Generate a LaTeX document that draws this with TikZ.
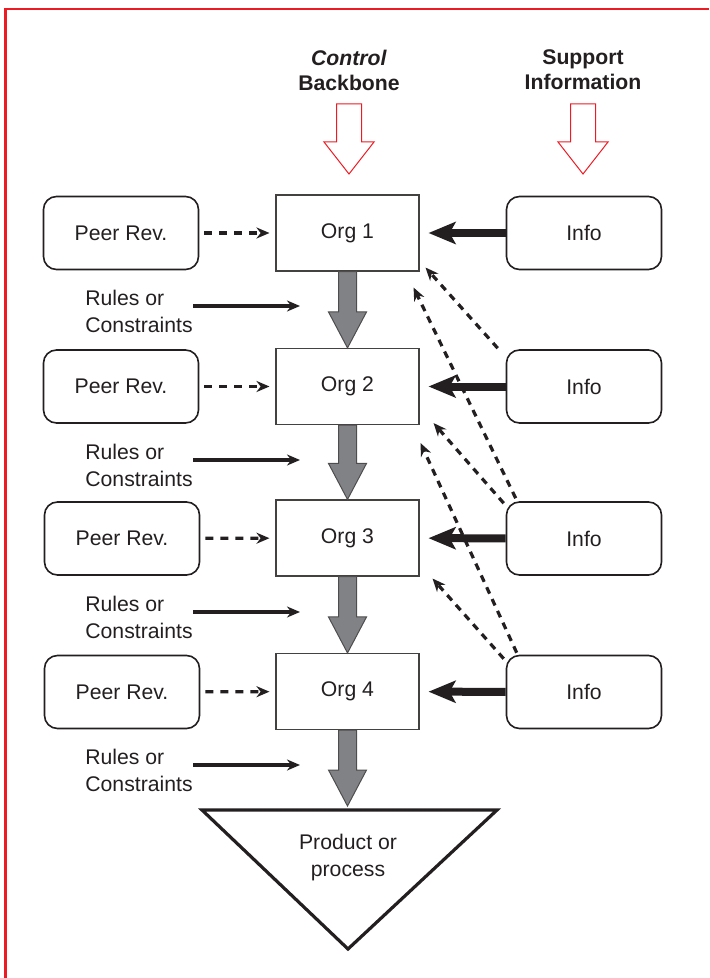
\documentclass[tikz,border=0pt]{standalone}
\usepackage{fontspec}
\setmainfont{Liberation Sans}
\usetikzlibrary{arrows.meta,calc}
\definecolor{framered}{HTML}{ED1C24}
\definecolor{bbgray}{HTML}{808285}
\definecolor{txt}{HTML}{231F20}
% grey backbone arrow: #1 start point, #2 tip
\newcommand{\backbone}[2]{%
  \draw[bbone] ($#1+(-9,0)$) -- ($#1+(9,0)$) -- ($#2+(9,-36)$) -- ($#2+(19,-36)$)
    -- #2 -- ($#2+(-19,-36)$) -- ($#2+(-9,-36)$) -- cycle;}
% open red arrow: #1 tip
\newcommand{\openarrow}[1]{%
  \draw[openred] ($#1+(-12.5,-70)$) -- ($#1+(12.5,-70)$) -- ($#1+(12.5,-32)$) -- ($#1+(25,-32)$)
    -- #1 -- ($#1+(-25,-32)$) -- ($#1+(-12.5,-32)$) -- cycle;}
\begin{document}
\begin{tikzpicture}[x=0.5pt,y=-0.5pt,
    every node/.style={font=\fontsize{10.6}{13.5}\selectfont, text=txt},
    title/.style={font=\fontsize{10.6}{12.5}\selectfont\bfseries, align=center},
    org/.style={draw=txt!85, line width=0.55pt, minimum width=71.5pt, minimum height=38pt},
    side/.style={draw=txt, line width=0.8pt, rounded corners=6.5pt, minimum width=77.5pt, minimum height=36.5pt},
    rules/.style={align=left, anchor=west, inner sep=0pt},
    bbone/.style={draw=txt!80, line width=0.5pt, fill=bbgray},
    openred/.style={draw=framered, line width=0.5pt, fill=white},
    peerarrow/.style={draw=txt, dash pattern=on 4pt off 3.5pt, line width=1.6pt,
      -{Stealth[length=6.5pt,width=5.5pt]}, shorten <=2.5pt, shorten >=3pt},
    diag/.style={draw=txt, dash pattern=on 3.5pt off 3pt, line width=1.6pt,
      -{Stealth[length=6.5pt,width=5.5pt]}},
    rulearrow/.style={draw=txt, line width=1.6pt, -{Stealth[length=6.5pt,width=5.5pt]}},
    infoarrow/.style={draw=txt, line width=4pt, -{Stealth[length=13.5pt,width=11pt,inset=3pt]}, shorten >=4.5pt}]
  \useasboundingbox (0,0) rectangle (709,978);
  \draw[framered, line width=1.4pt] (5.5,978) -- (5.5,9) -- (709,9);

  \node[title] (ctl) at (349,70) {\textit{Control}\\Backbone};
  \node[title] (sup) at (583,70) {Support\\Information};
  \coordinate (ctlt) at (349,174);
  \coordinate (supt) at (583,174);
  \openarrow{(ctlt)}
  \openarrow{(supt)}

  \node[side] (p1) at (121,233) {Peer Rev.};
  \node[side] (p2) at (121,386.5) {Peer Rev.};
  \node[side] (p3) at (122,538.5) {Peer Rev.};
  \node[side] (p4) at (122,692) {Peer Rev.};

  \node[org] (o1) at (347.5,233) {Org 1};
  \node[org] (o2) at (347.5,386.5) {Org 2};
  \node[org] (o3) at (347.5,538) {Org 3};
  \node[org] (o4) at (347.5,691.5) {Org 4};

  \node[side] (i1) at (584,233) {Info};
  \node[side] (i2) at (584,386.5) {Info};
  \node[side] (i3) at (584,538.5) {Info};
  \node[side] (i4) at (584,692) {Info};

  \node[rules] (r1) at (85,311.5) {Rules or\\Constraints};
  \node[rules] (r2) at (85,465) {Rules or\\Constraints};
  \node[rules] (r3) at (85,617) {Rules or\\Constraints};
  \node[rules] (r4) at (85,770) {Rules or\\Constraints};
  \coordinate (a1) at (300,306);
  \coordinate (a2) at (300,460);
  \coordinate (a3) at (300,612);
  \coordinate (a4) at (300,765);

  % product triangle
  \coordinate (pl) at (202,810);
  \coordinate (pr) at (497,810);
  \coordinate (pb) at (348,949);
  \coordinate (ptop) at (347.5,806);
  \draw[txt, line width=1.6pt, line join=miter] (pl) -- (pr) -- (pb) -- cycle;
  \node[align=center] (prod) at (348,858) {Product or\\process};

  \backbone{(o1.south)}{(o2.north)}
  \backbone{(o2.south)}{(o3.north)}
  \backbone{(o3.south)}{(o4.north)}
  \backbone{(o4.south)}{(ptop)}

  \draw[peerarrow] (p1) -- (o1);
  \draw[peerarrow] (p2) -- (o2);
  \draw[peerarrow] (p3) -- (o3);
  \draw[peerarrow] (p4) -- (o4);

  \draw[infoarrow] (i1) -- (o1);
  \draw[infoarrow] (i2) -- (o2);
  \draw[infoarrow] (i3) -- (o3);
  \draw[infoarrow] (i4) -- (o4);

  \draw[rulearrow] (r1.east |- a1) -- (a1);
  \draw[rulearrow] (r2.east |- a2) -- (a2);
  \draw[rulearrow] (r3.east |- a3) -- (a3);
  \draw[rulearrow] (r4.east |- a4) -- (a4);

  \draw[diag] ($(i2.north west)+(-8,-1)$) -- ($(o1.south east)+(6,-4)$);
  \draw[diag] ($(i3.north west)+(10,-3)$) -- ($(o1.south east)+(-6,16)$);
  \draw[diag] ($(i3.north west)+(-2,2)$) -- ($(o2.south east)+(14,-2)$);
  \draw[diag] ($(i4.north west)+(11,-2)$) -- ($(o2.south east)+(1,18)$);
  \draw[diag] ($(i4.north west)+(-2,4)$) -- ($(o3.south east)+(13,2)$);
\end{tikzpicture}
\end{document}
